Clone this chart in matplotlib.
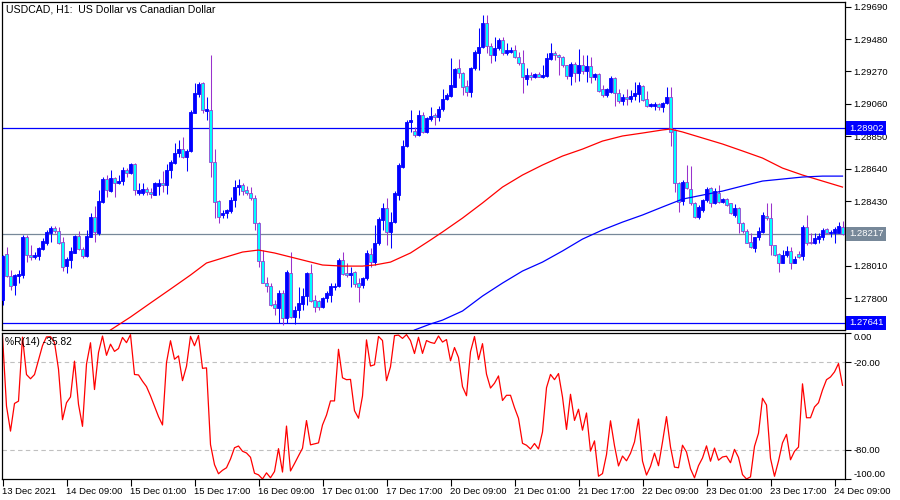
import numpy as np
import matplotlib
matplotlib.use("Agg")
import matplotlib.pyplot as plt
import matplotlib.transforms as mtransforms

# USDCAD H1 bars, 13 Dec 2021 17:00 .. 24 Dec 2021 11:00
open_ = [
    1.27789, 1.28087, 1.27944, 1.27886, 1.27944, 1.27951, 1.28197, 1.28081, 1.28068, 1.28074,
    1.28120, 1.28158, 1.28223, 1.28256, 1.28236, 1.28165, 1.28009, 1.28048, 1.28094, 1.28204,
    1.28120, 1.28074, 1.28197, 1.28327, 1.28223, 1.28424, 1.28573, 1.28495, 1.28580, 1.28547,
    1.28560, 1.28631, 1.28612, 1.28670, 1.28482, 1.28482, 1.28508, 1.28489, 1.28469, 1.28528,
    1.28547, 1.28534, 1.28631, 1.28677, 1.28742, 1.28767, 1.28716, 1.28755, 1.29001, 1.29124,
    1.29195, 1.29014, 1.29020, 1.28683, 1.28430, 1.28340, 1.28353, 1.28366, 1.28437, 1.28521,
    1.28534, 1.28502, 1.28482, 1.28450, 1.28288, 1.28042, 1.27899, 1.27880, 1.27763, 1.27737,
    1.27834, 1.27672, 1.27964, 1.27679, 1.27724, 1.27763, 1.27815, 1.27964, 1.27789, 1.27783,
    1.27744, 1.27802, 1.27821, 1.27873, 1.27880, 1.28048, 1.27964, 1.27951, 1.27970, 1.27899,
    1.27886, 1.27932, 1.28087, 1.28035, 1.28158, 1.28307, 1.28385, 1.28230, 1.28294, 1.28469,
    1.28651, 1.28787, 1.28942, 1.28884, 1.28858, 1.28988, 1.28878, 1.28962, 1.28988, 1.28975,
    1.29027, 1.29092, 1.29111, 1.29169, 1.29292, 1.29260, 1.29176, 1.29137, 1.29292, 1.29390,
    1.29428, 1.29584, 1.29435, 1.29377, 1.29422, 1.29474, 1.29390, 1.29396, 1.29409, 1.29364,
    1.29325, 1.29221, 1.29247, 1.29234, 1.29253, 1.29234, 1.29240, 1.29351, 1.29390, 1.29377,
    1.29364, 1.29312, 1.29240, 1.29318, 1.29260, 1.29312, 1.29273, 1.29305, 1.29234, 1.29253,
    1.29156, 1.29117, 1.29137, 1.29228, 1.29130, 1.29079, 1.29104, 1.29092, 1.29111, 1.29124,
    1.29176, 1.29092, 1.29046, 1.29046, 1.29059, 1.29040, 1.29066, 1.29104, 1.28891, 1.28547,
    1.28430, 1.28554, 1.28508, 1.28418, 1.28327, 1.28372, 1.28437, 1.28515, 1.28418, 1.28482,
    1.28424, 1.28443, 1.28418, 1.28340, 1.28385, 1.28288, 1.28236, 1.28165, 1.28126, 1.28197,
    1.28230, 1.28333, 1.28320, 1.28145, 1.28087, 1.28029, 1.28081, 1.28107, 1.28029, 1.28087,
    1.28074, 1.28262, 1.28165, 1.28158, 1.28184, 1.28197, 1.28249, 1.28223, 1.28223, 1.28223,
    1.28262,
]
high = [
    1.28081, 1.28132, 1.27983, 1.27957, 1.27983, 1.28210, 1.28210, 1.28145, 1.28100, 1.28132,
    1.28191, 1.28243, 1.28269, 1.28269, 1.28262, 1.28197, 1.28068, 1.28132, 1.28210, 1.28236,
    1.28132, 1.28243, 1.28353, 1.28398, 1.28502, 1.28586, 1.28599, 1.28631, 1.28586, 1.28599,
    1.28651, 1.28644, 1.28677, 1.28677, 1.28547, 1.28547, 1.28521, 1.28515, 1.28554, 1.28573,
    1.28625, 1.28670, 1.28696, 1.28806, 1.28826, 1.28845, 1.28767, 1.29020, 1.29195, 1.29202,
    1.29202, 1.29104, 1.29377, 1.28767, 1.28437, 1.28372, 1.28379, 1.28456, 1.28567, 1.28573,
    1.28547, 1.28528, 1.28521, 1.28469, 1.28294, 1.28113, 1.27938, 1.27899, 1.27789, 1.27854,
    1.27854, 1.27983, 1.28100, 1.27750, 1.27873, 1.27867, 1.27970, 1.28022, 1.27821, 1.27789,
    1.27808, 1.27847, 1.27899, 1.27899, 1.28061, 1.28100, 1.28029, 1.28003, 1.27977, 1.27932,
    1.27938, 1.28113, 1.28126, 1.28275, 1.28327, 1.28418, 1.28450, 1.28359, 1.28495, 1.28677,
    1.28826, 1.28955, 1.29020, 1.28910, 1.29020, 1.29007, 1.28975, 1.29040, 1.29001, 1.29046,
    1.29156, 1.29130, 1.29357, 1.29292, 1.29351, 1.29266, 1.29215, 1.29299, 1.29409, 1.29552,
    1.29636, 1.29636, 1.29454, 1.29493, 1.29487, 1.29493, 1.29454, 1.29428, 1.29441, 1.29396,
    1.29409, 1.29292, 1.29266, 1.29260, 1.29266, 1.29312, 1.29390, 1.29454, 1.29402, 1.29383,
    1.29370, 1.29312, 1.29331, 1.29331, 1.29415, 1.29377, 1.29377, 1.29364, 1.29260, 1.29260,
    1.29182, 1.29163, 1.29240, 1.29234, 1.29156, 1.29124, 1.29156, 1.29150, 1.29202, 1.29202,
    1.29182, 1.29143, 1.29066, 1.29072, 1.29066, 1.29072, 1.29169, 1.29169, 1.28897, 1.28554,
    1.28567, 1.28664, 1.28657, 1.28424, 1.28405, 1.28443, 1.28521, 1.28521, 1.28515, 1.28534,
    1.28450, 1.28450, 1.28418, 1.28411, 1.28392, 1.28294, 1.28249, 1.28223, 1.28197, 1.28262,
    1.28359, 1.28418, 1.28418, 1.28145, 1.28094, 1.28113, 1.28139, 1.28132, 1.28074, 1.28107,
    1.28275, 1.28342, 1.28223, 1.28223, 1.28223, 1.28256, 1.28256, 1.28243, 1.28262, 1.28294,
    1.28301,
]
low = [
    1.27757, 1.27938, 1.27854, 1.27821, 1.27899, 1.27932, 1.28035, 1.28048, 1.28055, 1.28048,
    1.28113, 1.28145, 1.28165, 1.28223, 1.28152, 1.27977, 1.27964, 1.27996, 1.28094, 1.28113,
    1.28061, 1.28068, 1.28197, 1.28165, 1.28210, 1.28418, 1.28456, 1.28489, 1.28456, 1.28541,
    1.28534, 1.28586, 1.28605, 1.28469, 1.28469, 1.28469, 1.28469, 1.28450, 1.28469, 1.28469,
    1.28489, 1.28476, 1.28580, 1.28670, 1.28716, 1.28709, 1.28625, 1.28748, 1.29001, 1.29104,
    1.29001, 1.28955, 1.28586, 1.28320, 1.28288, 1.28320, 1.28320, 1.28353, 1.28392, 1.28469,
    1.28469, 1.28469, 1.28437, 1.28243, 1.28003, 1.27899, 1.27841, 1.27750, 1.27692, 1.27640,
    1.27627, 1.27640, 1.27672, 1.27634, 1.27672, 1.27724, 1.27757, 1.27776, 1.27711, 1.27724,
    1.27737, 1.27776, 1.27776, 1.27854, 1.27873, 1.27951, 1.27938, 1.27873, 1.27873, 1.27776,
    1.27867, 1.27919, 1.28003, 1.28016, 1.28145, 1.28243, 1.28145, 1.28126, 1.28288, 1.28437,
    1.28644, 1.28780, 1.28878, 1.28845, 1.28852, 1.28871, 1.28871, 1.28949, 1.28923, 1.28949,
    1.29014, 1.29085, 1.29104, 1.29169, 1.29228, 1.29117, 1.29111, 1.29104, 1.29279, 1.29279,
    1.29422, 1.29390, 1.29325, 1.29338, 1.29409, 1.29377, 1.29377, 1.29390, 1.29357, 1.29312,
    1.29130, 1.29182, 1.29215, 1.29228, 1.29234, 1.29228, 1.29234, 1.29344, 1.29344, 1.29247,
    1.29299, 1.29221, 1.29182, 1.29202, 1.29208, 1.29253, 1.29202, 1.29195, 1.29215, 1.29137,
    1.29104, 1.29104, 1.29130, 1.29046, 1.29066, 1.29053, 1.29053, 1.29072, 1.29085, 1.29072,
    1.29079, 1.29040, 1.29040, 1.29020, 1.29020, 1.29007, 1.29059, 1.28787, 1.28489, 1.28359,
    1.28405, 1.28508, 1.28405, 1.28320, 1.28314, 1.28359, 1.28424, 1.28392, 1.28411, 1.28418,
    1.28418, 1.28398, 1.28346, 1.28327, 1.28223, 1.28223, 1.28158, 1.28126, 1.28100, 1.28178,
    1.28223, 1.28307, 1.28081, 1.28074, 1.27970, 1.28029, 1.28068, 1.27993, 1.28029, 1.28061,
    1.28048, 1.28145, 1.28152, 1.28152, 1.28158, 1.28178, 1.28223, 1.28197, 1.28158, 1.28223,
    1.28210,
]
close = [
    1.28074, 1.27944, 1.27880, 1.27951, 1.27957, 1.28197, 1.28081, 1.28068, 1.28081, 1.28126,
    1.28171, 1.28230, 1.28256, 1.28236, 1.28158, 1.28003, 1.28055, 1.28107, 1.28204, 1.28120,
    1.28074, 1.28204, 1.28327, 1.28230, 1.28430, 1.28573, 1.28502, 1.28580, 1.28547, 1.28560,
    1.28631, 1.28612, 1.28670, 1.28502, 1.28502, 1.28508, 1.28489, 1.28476, 1.28547, 1.28547,
    1.28534, 1.28631, 1.28683, 1.28742, 1.28767, 1.28716, 1.28755, 1.29007, 1.29130, 1.29189,
    1.29020, 1.29027, 1.28683, 1.28424, 1.28327, 1.28353, 1.28372, 1.28437, 1.28521, 1.28534,
    1.28495, 1.28482, 1.28450, 1.28288, 1.28042, 1.27899, 1.27880, 1.27757, 1.27737, 1.27834,
    1.27672, 1.27970, 1.27679, 1.27724, 1.27770, 1.27815, 1.27964, 1.27783, 1.27744, 1.27744,
    1.27802, 1.27834, 1.27880, 1.27880, 1.28048, 1.27957, 1.27951, 1.27964, 1.27893, 1.27873,
    1.27932, 1.28094, 1.28035, 1.28158, 1.28314, 1.28385, 1.28230, 1.28294, 1.28482, 1.28664,
    1.28787, 1.28942, 1.28955, 1.28858, 1.28988, 1.28878, 1.28968, 1.28981, 1.28975, 1.29027,
    1.29092, 1.29117, 1.29182, 1.29286, 1.29260, 1.29169, 1.29137, 1.29292, 1.29396, 1.29428,
    1.29584, 1.29435, 1.29377, 1.29422, 1.29474, 1.29390, 1.29409, 1.29409, 1.29364, 1.29325,
    1.29234, 1.29247, 1.29234, 1.29253, 1.29234, 1.29247, 1.29357, 1.29390, 1.29377, 1.29364,
    1.29312, 1.29240, 1.29318, 1.29260, 1.29312, 1.29273, 1.29305, 1.29234, 1.29253, 1.29143,
    1.29117, 1.29156, 1.29228, 1.29130, 1.29079, 1.29104, 1.29092, 1.29111, 1.29130, 1.29182,
    1.29085, 1.29046, 1.29059, 1.29059, 1.29040, 1.29066, 1.29104, 1.28878, 1.28547, 1.28424,
    1.28554, 1.28515, 1.28418, 1.28327, 1.28392, 1.28437, 1.28508, 1.28418, 1.28495, 1.28424,
    1.28443, 1.28405, 1.28353, 1.28385, 1.28288, 1.28236, 1.28158, 1.28132, 1.28197, 1.28236,
    1.28340, 1.28320, 1.28145, 1.28081, 1.28029, 1.28081, 1.28107, 1.28029, 1.28055, 1.28068,
    1.28262, 1.28158, 1.28158, 1.28191, 1.28204, 1.28243, 1.28223, 1.28230, 1.28249, 1.28269,
    1.28217,
]

# moving averages (bar index, price)
ma_red_idx = [25, 27, 32, 37, 42, 47, 51, 55, 60, 64, 68, 72, 76, 80, 85, 90, 93, 97, 102,
              107, 110, 115, 120, 125, 130, 135, 140, 145, 150, 155, 160, 165, 167, 170,
              175, 180, 185, 190, 195, 200, 205, 210]
ma_red = [1.27556, 1.27595, 1.27679, 1.27770, 1.27860, 1.27951, 1.28029, 1.28061, 1.28100,
          1.28113, 1.28094, 1.28068, 1.28042, 1.28016, 1.28009, 1.28009, 1.28016, 1.28035,
          1.28094, 1.28178, 1.28230, 1.28320, 1.28418, 1.28521, 1.28599, 1.28664, 1.28722,
          1.28767, 1.28819, 1.28852, 1.28871, 1.28891, 1.28897, 1.28878, 1.28839, 1.28800,
          1.28755, 1.28709, 1.28644, 1.28599, 1.28560, 1.28521]
ma_blue_idx = [101, 103, 107, 110, 115, 120, 125, 130, 135, 140, 145, 150, 155, 160, 165,
               170, 175, 180, 185, 190, 195, 200, 205, 210]
ma_blue = [1.27562, 1.27595, 1.27634, 1.27659, 1.27718, 1.27815, 1.27899, 1.27977, 1.28035,
           1.28107, 1.28184, 1.28243, 1.28294, 1.28340, 1.28392, 1.28443, 1.28469, 1.28495,
           1.28528, 1.28560, 1.28573, 1.28586, 1.28592, 1.28592]

hlines_blue = [1.28902, 1.27641]
bid = 1.28217

price_ticks = [1.29690, 1.29480, 1.29270, 1.29060, 1.28850, 1.28640, 1.28430,
               1.28010, 1.27800]
time_tick_idx = [0, 16, 32, 48, 64, 80, 96, 112, 128, 144, 160, 176, 192, 208]
time_labels = ["13 Dec 2021", "14 Dec 09:00", "15 Dec 01:00", "15 Dec 17:00", "16 Dec 09:00",
               "17 Dec 01:00", "17 Dec 17:00", "20 Dec 09:00", "21 Dec 01:00", "21 Dec 17:00",
               "22 Dec 09:00", "23 Dec 01:00", "23 Dec 17:00", "24 Dec 09:00"]

plt.rcParams["font.family"] = ["Liberation Sans", "DejaVu Sans"]
FS = 6.8
BULL = "#0000FF"
BEAR_BODY = "#00FFFF"
BEAR_EDGE = "#9932CC"

o = np.array(open_)
h = np.array(high)
l = np.array(low)
c = np.array(close)
n = len(c)
x = np.arange(n)

# Williams %R(14)
wpr = []
for i in range(n):
    lo = max(0, i - 13)
    hh = h[lo:i + 1].max()
    ll = l[lo:i + 1].min()
    wpr.append(-100.0 * (hh - c[i]) / (hh - ll))

fig = plt.figure(figsize=(9, 5), dpi=100)
ax = fig.add_axes([2 / 900, 170 / 500, 843 / 900, 328 / 500])
ax2 = fig.add_axes([2 / 900, 21 / 500, 843 / 900, 146 / 500])

# 4 px per bar, bar centres on pixel centres
xlim = (-0.125, -0.125 + 843 / 4)

# candles
up = c >= o
body_lo = np.minimum(o, c)
body_h = np.maximum(np.abs(c - o), 0.000005)
ax.vlines(x[up], l[up], h[up], color=BULL, lw=0.75, zorder=3)
ax.vlines(x[~up], l[~up], h[~up], color=BEAR_EDGE, lw=0.75, zorder=3)
ax.bar(x[up], body_h[up], bottom=body_lo[up], width=0.55, color=BULL,
       edgecolor=BULL, lw=0.6, zorder=4)
ax.bar(x[~up], body_h[~up], bottom=body_lo[~up], width=0.6, color=BEAR_BODY,
       edgecolor=BEAR_EDGE, lw=0.55, zorder=4)

ax.plot(ma_red_idx, ma_red, color="#FF0000", lw=0.9, zorder=5)
ax.plot(ma_blue_idx, ma_blue, color="#0000FF", lw=0.9, zorder=5)

for v in hlines_blue:
    ax.axhline(v, color="#0000FF", lw=0.9, zorder=2)
ax.axhline(bid, color="#778899", lw=0.9, zorder=2)

ax.set_xlim(*xlim)
ax.set_ylim(1.27595, 1.29720)
ax.set_xticks([])
ax.yaxis.tick_right()
ax.set_yticks(price_ticks)
ax.set_yticklabels([f"{v:.5f}" for v in price_ticks])
ax.tick_params(axis="y", direction="out", length=4, width=0.8, pad=2, labelsize=FS)

trans = mtransforms.blended_transform_factory(ax.transAxes, ax.transData)
box_kw = dict(transform=trans, color="white", fontsize=FS, va="center", ha="left",
              clip_on=False, zorder=10)
for v in hlines_blue:
    ax.text(1.0045, v, f"{v:.5f}", bbox=dict(boxstyle="square,pad=0.25", fc="#0000FF",
                                            ec="none"), **box_kw)
ax.text(1.0045, bid, f"{bid:.5f}", bbox=dict(boxstyle="square,pad=0.25", fc="#778899",
                                            ec="none"), **box_kw)

fig.text(6 / 900, 1 - 10 / 500, "USDCAD, H1:  US Dollar vs Canadian Dollar",
         fontsize=7.6, va="center", ha="left")

# Williams %R panel
ax2.plot(x, wpr, color="#FF0000", lw=0.9)
for v in (-20, -80):
    ax2.axhline(v, color="#C0C0C0", lw=0.8, ls=(0, (4, 3)), zorder=1)
ax2.set_xlim(*xlim)
ax2.set_ylim(-100, 0)
ax2.yaxis.tick_right()
ax2.set_yticks([0, -20, -80, -100])
ax2.set_yticklabels(["0.00", "-20.00", "-80.00", "-100.00"])
ax2.tick_params(axis="y", direction="out", length=4, width=0.8, pad=2, labelsize=FS)
ylab = ax2.get_yticklabels()
ylab[0].set_va("top")
ylab[-1].set_va("bottom")
ax2.set_xticks(time_tick_idx)
ax2.set_xticklabels(time_labels)
ax2.tick_params(axis="x", direction="out", length=5, width=0.8, pad=1, labelsize=FS)
for lbl in ax2.get_xticklabels():
    lbl.set_ha("left")
ax2.text(0.004, 0.94, f"%R(14) {wpr[-1]:.2f}", transform=ax2.transAxes, fontsize=7.4,
         va="center", ha="left")

for a in (ax, ax2):
    for s in a.spines.values():
        s.set_linewidth(0.9)
        s.set_color("black")

fig.savefig("out.png", dpi=100, facecolor="white")
